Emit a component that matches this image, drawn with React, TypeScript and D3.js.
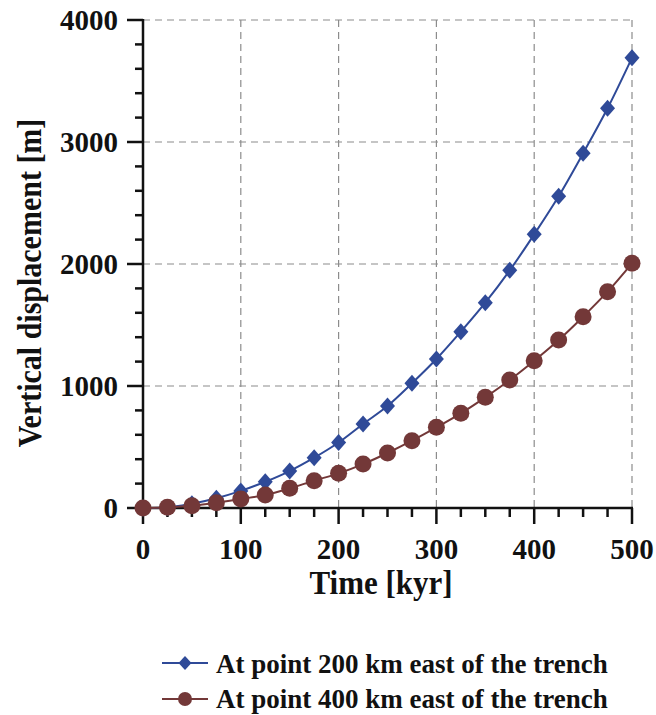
import React from "react";
import * as d3 from "d3";

// Time steps in kyr
const timeKyr = [0, 25, 50, 75, 100, 125, 150, 175, 200, 225, 250, 275, 300, 325, 350, 375, 400, 425, 450, 475, 500];
// Vertical displacement [m] at 200 km east of the trench
const disp200 = [0, 5, 35, 80, 140, 215, 303, 412, 537, 689, 836, 1022, 1221, 1445, 1683, 1948, 2243, 2555, 2907, 3276, 3690];
// Vertical displacement [m] at 400 km east of the trench
const disp400 = [0, 6, 19, 43, 74, 107, 161, 224, 284, 360, 451, 552, 661, 776, 907, 1049, 1207, 1377, 1568, 1773, 2006];

const xTicks = [0, 100, 200, 300, 400, 500];
const yTicks = [0, 1000, 2000, 3000, 4000];
const seriesNames = ["At point 200 km east of the trench", "At point 400 km east of the trench"];

const BLUE = "#2f4a98";
const RED = "#733838";
const FONT = "'Liberation Serif', 'Times New Roman', serif";

export default function App() {
  const W = 656;
  const H = 715;
  const x = d3.scaleLinear().domain([0, 500]).range([143, 632]);
  const y = d3.scaleLinear().domain([0, 4000]).range([508, 20]);

  const line = d3
    .line<number>()
    .x((_, i) => x(timeKyr[i]))
    .y((d) => y(d))
    .curve(d3.curveMonotoneX);

  const xMinor = d3.range(0, 501, 25);
  const yMinor = d3.range(0, 4001, 200);

  const diamond = (cx: number, cy: number, rx: number, ry: number) =>
    `M${cx},${cy - ry}L${cx + rx},${cy}L${cx},${cy + ry}L${cx - rx},${cy}Z`;

  return (
    <svg width={W} height={H} style={{ display: "block", position: "absolute", left: 0, top: 0 }}>
      <rect width={W} height={H} fill="#fff" />
      {/* grid */}
      <g stroke="#8c8c8c" strokeWidth={1.2} strokeDasharray="7,5">
        {xTicks.filter((t) => t > 0).map((t) => (
          <line key={"gx" + t} x1={x(t)} x2={x(t)} y1={y(4000)} y2={y(0)} />
        ))}
        {yTicks.filter((t) => t > 0).map((t) => (
          <line key={"gy" + t} x1={x(0)} x2={x(500)} y1={y(t)} y2={y(t)} />
        ))}
      </g>
      {/* axes */}
      <g stroke="#111" strokeWidth={2.5}>
        <line x1={x(0)} x2={x(0)} y1={y(4000) - 1} y2={y(0) + 1} />
        <line x1={x(0) - 1} x2={x(500) + 1} y1={y(0)} y2={y(0)} />
        {xMinor.map((t) => (
          <line key={"tx" + t} x1={x(t)} x2={x(t)} y1={y(0)} y2={y(0) + (t % 100 === 0 ? 16 : 9)} />
        ))}
        {yMinor.map((t) => (
          <line key={"ty" + t} x1={x(0)} x2={x(0) - (t % 1000 === 0 ? 16 : 8)} y1={y(t)} y2={y(t)} />
        ))}
      </g>
      {/* tick labels and titles */}
      <g fontFamily={FONT} fontWeight="bold" fontSize={29} fill="#111">
        {xTicks.map((t) => (
          <text key={"lx" + t} x={x(t)} y={559} textAnchor="middle">{t}</text>
        ))}
        {yTicks.map((t) => (
          <text key={"ly" + t} x={118} y={y(t) + 10} textAnchor="end">{t}</text>
        ))}
        <text transform="translate(381,594) scale(1,1.1)" textAnchor="middle" fontSize={31}>Time [kyr]</text>
        <text transform="translate(41,283) rotate(-90) scale(1,1.15)" textAnchor="middle" fontSize={30}>
          Vertical displacement [m]
        </text>
      </g>
      {/* series */}
      <path d={line(disp200) || ""} fill="none" stroke={BLUE} strokeWidth={2} />
      {disp200.map((v, i) => (
        <path key={"d" + i} d={diamond(x(timeKyr[i]), y(v), 7.5, 8.5)} fill={BLUE} />
      ))}
      <path d={line(disp400) || ""} fill="none" stroke={RED} strokeWidth={2} />
      {disp400.map((v, i) => (
        <circle key={"c" + i} cx={x(timeKyr[i])} cy={y(v)} r={8.5} fill={RED} />
      ))}
      {/* legend */}
      <g fontFamily={FONT} fontWeight="bold" fontSize={27} fill="#111">
        <line x1={162} x2={208} y1={663} y2={663} stroke={BLUE} strokeWidth={2} />
        <path d={diamond(185, 663, 6.5, 7)} fill={BLUE} />
        <text x={216} y={673}>{seriesNames[0]}</text>
        <line x1={162} x2={208} y1={699} y2={699} stroke={RED} strokeWidth={2} />
        <circle cx={185} cy={699} r={7} fill={RED} />
        <text x={216} y={708}>{seriesNames[1]}</text>
      </g>
    </svg>
  );
}
